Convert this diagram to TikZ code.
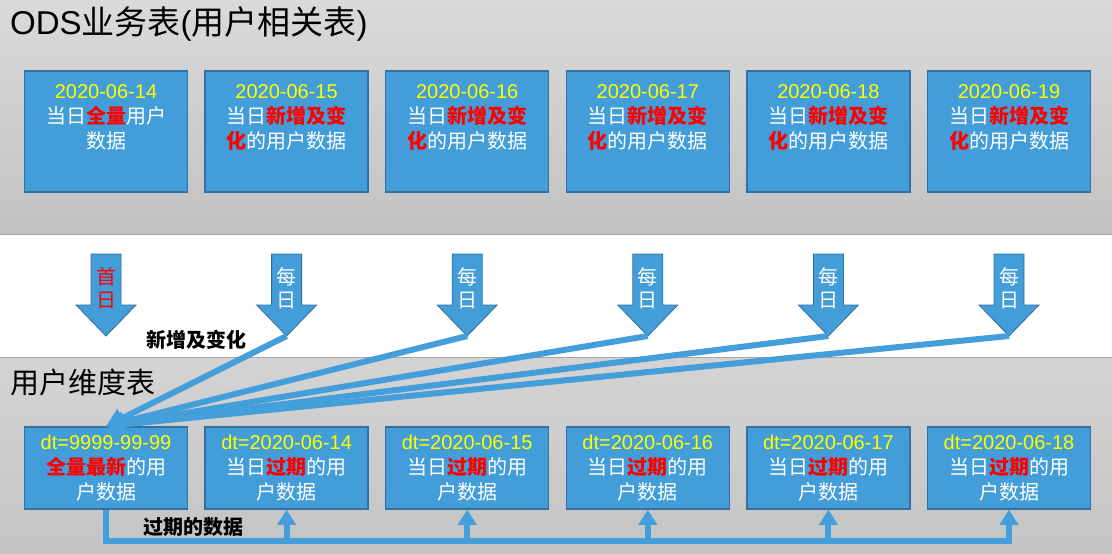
\documentclass[tikz,border=0pt]{standalone}
\usepackage{fontspec}
\setmainfont{Liberation Sans}
\newfontfamily\cjk{Noto Sans CJK SC}
\usetikzlibrary{arrows.meta,positioning}
\definecolor{boxblue}{RGB}{66,157,217}
\definecolor{boxedge}{RGB}{52,112,160}
\definecolor{lineblue}{RGB}{68,158,218}
\definecolor{datey}{RGB}{255,255,0}
\definecolor{bgtop}{RGB}{218,218,218}
\definecolor{bgbot}{RGB}{194,194,194}
\definecolor{bgtopb}{RGB}{212,212,212}
\definecolor{bgbotb}{RGB}{196,196,196}
\newcommand{\boxfont}{\fontsize{20}{25}\selectfont}
\newcommand{\hl}[1]{\textcolor{red}{\bfseries #1}}
\begin{document}
\begin{tikzpicture}[x=1pt,y=-1pt,
    odsbox/.style={draw=boxedge,line width=1.5pt,fill=boxblue,minimum width=163pt,minimum height=121pt,inner sep=0pt},
    dimbox/.style={draw=boxedge,line width=1.5pt,fill=boxblue,minimum width=163pt,minimum height=82pt,inner sep=0pt,align=center,text=white,font=\boxfont},
    boxtext/.style={inner sep=0pt,align=center,text=white,font=\boxfont},
    dayarrow/.style={fill=boxblue,draw=boxedge,line width=0.8pt},
    daytext/.style={inner sep=0pt,align=center,font=\cjk\fontsize{20}{23}\selectfont},
    feed/.style={draw=lineblue,line width=6pt},
    tag/.style={inner sep=0pt,font=\cjk\bfseries\fontsize{20}{24}\selectfont}]
    \useasboundingbox (0,0) rectangle (1112,554);
    % bands
    \fill[top color=bgtop,bottom color=bgbot] (0,0) rectangle (1112,234);
    \fill[white] (0,234) rectangle (1112,357);
    \fill[top color=bgtopb,bottom color=bgbotb] (0,357) rectangle (1112,554);
    \draw[black!35] (0,234)--(1112,234) (0,357)--(1112,357);
    \node[anchor=west,inner sep=0pt,font=\fontsize{33}{36}\selectfont] (odstitle) at (10,24) {ODS{\cjk 业务表}({\cjk 用户相关表})};
    \node[anchor=west,inner sep=0pt,font=\cjk\fontsize{29}{32}\selectfont] (dimtitle) at (10,382) {用户维度表};
    % ods tables
    \node[odsbox] (ods1) at (106,131.5) {};
    \node[boxtext,anchor=north] at ([yshift=-14pt]ods1.north) {\textcolor{datey}{2020-06-14}\\{\cjk 当日\hl{全量}用户}\\{\cjk 数据}};
    \foreach \i/\d in {2/15,3/16,4/17,5/18,6/19}{
        \node[odsbox] (ods\i) at ({106+180.6*(\i-1)},131.5) {};
        \node[boxtext,anchor=north] at ([yshift=-14pt]ods\i.north) {\textcolor{datey}{2020-06-\d}\\{\cjk 当日\hl{新增及变}}\\{\cjk \hl{化}的用户数据}};
    }
    % daily loads
    \foreach \i/\t/\c in {1/首/red,2/每/white,3/每/white,4/每/white,5/每/white,6/每/white}{
        \pgfmathsetmacro\cx{106+180.6*(\i-1)}
        \draw[dayarrow] (\cx-15,254) -- (\cx+15,254) -- (\cx+15,305) -- (\cx+30,305) -- (\cx,336) -- (\cx-30,305) -- (\cx-15,305) -- cycle;
        \coordinate (tip\i) at (\cx,336);
        \node[daytext,text=\c] (day\i) at (\cx,288) {\t\\日};
    }
    % dimension table
    \node[dimbox] (dim1) at (106,468) {\textcolor{datey}{dt=9999-99-99}\\{\cjk\hl{全量最新}的用}\\{\cjk 户数据}};
    \foreach \i/\d in {2/14,3/15,4/16,5/17,6/18}
        \node[dimbox] (dim\i) at ({106+180.6*(\i-1)},468) {\textcolor{datey}{dt=2020-06-\d}\\{\cjk 当日\hl{过期}的用}\\{\cjk 户数据}};
    \foreach \i in {2,...,6}
        \draw[feed,-{Triangle[length=18pt,width=20pt]}] (tip\i) -- (dim1.north);
    \coordinate (bus) at (106,541);
    \draw[feed,-{Triangle[length=15pt,width=18pt]}] (dim1.south) -- (bus) -- (bus -| dim6.south) -- (dim6.south);
    \foreach \i in {2,...,5}
        \draw[feed,-{Triangle[length=15pt,width=18pt]}] (bus -| dim\i.south) -- (dim\i.south);
    \node[tag] (newtag) at (196,340) {新增及变化};
    \node[tag] (oldtag) at (193,527) {过期的数据};
\end{tikzpicture}
\end{document}
